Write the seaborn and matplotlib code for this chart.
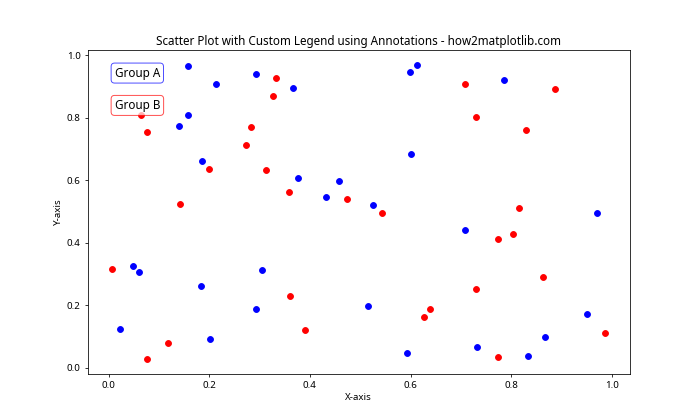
import matplotlib
matplotlib.use("Agg")
import matplotlib.pyplot as plt
import seaborn as sns
import pandas as pd

# Group A (blue)
a_x = [0.158, 0.213, 0.293, 0.366, 0.158, 0.140, 0.185, 0.376, 0.458, 0.431,
       0.613, 0.599, 0.786, 0.601, 0.525,
       0.048, 0.060, 0.022, 0.184, 0.201, 0.305, 0.293,
       0.708, 0.971, 0.515, 0.593, 0.732, 0.834, 0.868, 0.950]
a_y = [0.966, 0.908, 0.940, 0.895, 0.809, 0.774, 0.662, 0.607, 0.597, 0.546,
       0.969, 0.947, 0.921, 0.684, 0.520,
       0.325, 0.306, 0.123, 0.261, 0.091, 0.312, 0.187,
       0.440, 0.495, 0.197, 0.046, 0.065, 0.037, 0.097, 0.171]
# Group B (red)
b_x = [0.064, 0.076, 0.333, 0.327, 0.283, 0.273, 0.199, 0.313, 0.358, 0.142, 0.474,
       0.708, 0.887, 0.730, 0.830, 0.816,
       0.007, 0.076, 0.118, 0.360, 0.390,
       0.543, 0.773, 0.804, 0.863, 0.730, 0.638, 0.626, 0.987, 0.773]
b_y = [0.808, 0.754, 0.928, 0.870, 0.770, 0.713, 0.636, 0.633, 0.562, 0.524, 0.540,
       0.908, 0.892, 0.803, 0.761, 0.510,
       0.315, 0.027, 0.078, 0.229, 0.120,
       0.495, 0.412, 0.428, 0.290, 0.251, 0.187, 0.162, 0.110, 0.033]

groups = ["Group A", "Group B"]
colors = ["blue", "red"]
title = "Scatter Plot with Custom Legend using Annotations - how2matplotlib.com"

plt.rcParams['font.family'] = ['Noto Sans', 'DejaVu Sans']

df = pd.concat([
    pd.DataFrame({"x": a_x, "y": a_y, "group": groups[0]}),
    pd.DataFrame({"x": b_x, "y": b_y, "group": groups[1]}),
])

fig, ax = plt.subplots(figsize=(10, 6), dpi=70)
for g, c in zip(groups, colors):
    sub = df[df["group"] == g]
    sns.scatterplot(data=sub, x="x", y="y", color=c, s=36, edgecolor=c,
                    linewidth=1, ax=ax, legend=False)

for i, (g, c) in enumerate(zip(groups, colors)):
    ax.annotate(g, xy=(0.05, 0.95 - 0.1 * i), xycoords="axes fraction",
                ha="left", va="top", fontsize=12,
                bbox=dict(boxstyle="round,pad=0.3", fc="white", ec=c, alpha=0.7))

ax.set_title(title, fontsize=12)
ax.set_xlabel("X-axis")
ax.set_ylabel("Y-axis")
fig.savefig("out.png", dpi=70)
